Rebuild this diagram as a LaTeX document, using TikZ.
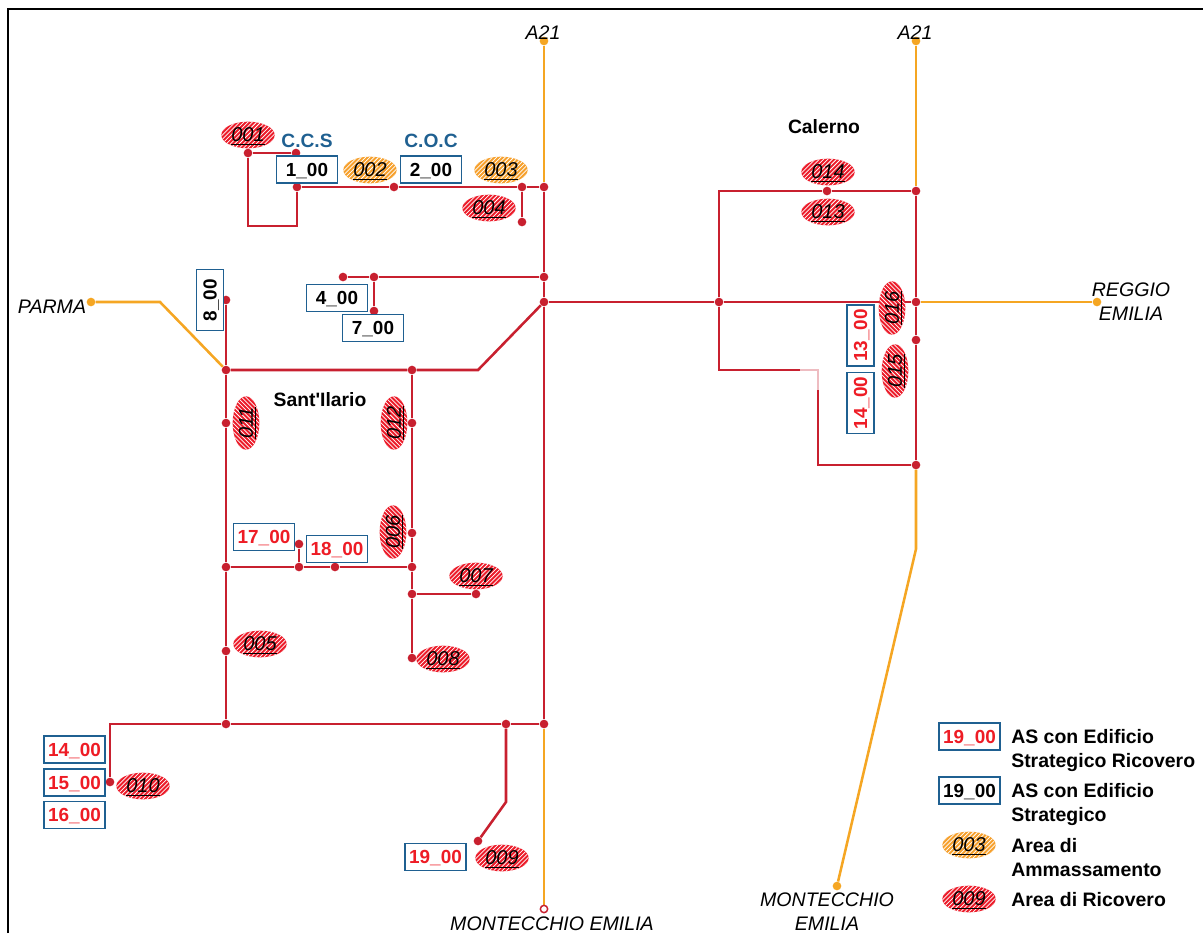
\documentclass[tikz,border=0pt]{standalone}
\usepackage{fontspec}
\setmainfont{Liberation Sans}
\newfontfamily\plainf{Liberation Sans}
\usetikzlibrary{shapes.geometric}
\definecolor{netred}{HTML}{C8202F}
\definecolor{road}{HTML}{F5A623}
\definecolor{boxblue}{HTML}{1F6091}
\definecolor{lblred}{HTML}{EE1C25}
\definecolor{areared}{HTML}{EC1C2A}
\definecolor{areaorg}{HTML}{F6A02C}
\newcommand{\fsz}[2]{\fontsize{#1}{#2}\selectfont}
\newcommand{\hatchlines}{%
  \foreach \i in {-20,-18,...,20}
    \draw[white,line width=0.55pt]
      ([shift={(\i*1.6pt-16pt,-16pt)}]path picture bounding box.center) --
      ([shift={(\i*1.6pt+16pt,16pt)}]path picture bounding box.center);}
\tikzset{
  net/.style={draw=netred,line width=1.9pt,line join=miter},
  roadline/.style={draw=road,line width=1.9pt,line join=miter},
  dot/.style={circle,fill=netred,inner sep=0pt,minimum size=6.5pt},
  rdot/.style={circle,fill=road,inner sep=0pt,minimum size=6.5pt},
  as/.style={draw=boxblue,fill=white,line width=1.2pt,inner sep=0pt,text depth=0pt,minimum width=46pt,minimum height=20pt,font=\fsz{14.2}{14.2}\bfseries},
  asv/.style={as,rotate=90},
  blk/.style={as,text=black},
  redt/.style={as,text=lblred},
  blkv/.style={asv,text=black},
  redv/.style={asv,text=lblred},
  area/.style={ellipse,inner sep=0pt,text depth=0pt,minimum width=40pt,minimum height=20pt,font=\fsz{15}{15}\itshape,path picture={\hatchlines}},
  ared/.style={area,fill=areared},
  aorg/.style={area,fill=areaorg},
  aredv/.style={ared,rotate=90},
  title/.style={font=\plainf\fsz{14.5}{18}\bfseries,text=black},
  blue/.style={font=\fsz{14.4}{18}\bfseries,text=boxblue},
  place/.style={font=\fsz{14.7}{18}\itshape,text=black,align=center,inner sep=0pt},
  legend/.style={font=\fsz{14.6}{18}\bfseries,text=black,align=left,anchor=west,inner sep=0pt},
}
\newcommand{\ar}[1]{\underline{#1}}
\begin{document}
\begin{tikzpicture}[x=0.75pt,y=-0.75pt]
\useasboundingbox (0,0) rectangle (1203,933);
% frame
\coordinate (f1) at (8,933); \coordinate (f2) at (8,9); \coordinate (f3) at (1203,9);
\draw[black,line width=1.5pt] (f1) -- (f2) -- (f3);
% road ends
\node[rdot] (aT1) at (544,41) {};
\node[rdot] (aT2) at (916,41) {};
\node[rdot] (pa) at (91,302) {};
\node[rdot] (re) at (1097,302) {};
\node[rdot] (mo2) at (837,886) {};
\coordinate (pa1) at (160,302);
\coordinate (mo2a) at (916,549);
% network junctions
\foreach \n/\x/\y in {
 c1/248/153,c2/296/153,c3/297/187,c4/394/187,c5/522/187,c6/544/187,c7/522/222,
 d1/343/277,d2/374/277,d3/544/277,d4/374/311,
 m/544/302,s1/412/370,s2/226/370,s0/226/300,s3/226/423,s4/226/567,s5/226/651,s6/226/724,
 t1/412/423,t2/412/533,t3/412/567,t4/412/594,t5/412/658,
 u1/299/567,u2/335/567,u3/299/544,t6/476/594,
 v1/110/782,v2/506/724,v3/544/724,v4/478/841,
 r1/719/302,r2/916/302,r3/827/191,r4/916/191,r5/916/340,r6/916/465}
 {\node[dot] (\n) at (\x,\y) {};}
\coordinate (b1) at (248,226); \coordinate (b2) at (297,226);
\coordinate (b3) at (478,370);
\coordinate (b4) at (110,724);
\coordinate (b5) at (506,802);
\coordinate (b6) at (719,191);
\coordinate (b7) at (719,370);
\coordinate (b8) at (800,370);
\coordinate (b9) at (818,370);
\coordinate (b10) at (818,390);
\coordinate (b11) at (818,465);
% roads
\draw[roadline] (aT1) -- (c6);
\draw[roadline] (v3) -- (544,909) coordinate (mo1c);
\node[circle,draw=netred,fill=white,line width=1.1pt,inner sep=0pt,minimum size=5.5pt] (mo1) at (mo1c) {};
\draw[roadline] (aT2) -- (r4);
\draw[roadline] (r6) -- (mo2a) -- (mo2);
\draw[roadline] (pa) -- (pa1) -- (s2);
\draw[roadline] (r2) -- (re);
% network
\draw[net] (c2) -- (c1) -- (b1) -- (b2) -- (c3) -- (c4) -- (c5) -- (c6) -- (d3) -- (m) -- (v3) -- (v2) -- (s6) -- (b4) -- (v1);
\draw[net] (c5) -- (c7);
\draw[net] (d1) -- (d2) -- (d3);
\draw[net] (d2) -- (d4);
\draw[net] (m) -- (b3) -- (s1) -- (s2);
\draw[net] (s0) -- (s2) -- (s3) -- (s4) -- (s5) -- (s6);
\draw[net] (s1) -- (t1) -- (t2) -- (t3) -- (t4) -- (t5);
\draw[net] (s4) -- (u1) -- (u2) -- (t3);
\draw[net] (u1) -- (u3);
\draw[net] (t4) -- (t6);
\draw[net] (v2) -- (b5) -- (v4);
\draw[net] (m) -- (r1) -- (r2);
\draw[net] (r1) -- (b6) -- (r3) -- (r4) -- (r2) -- (r5) -- (r6);
\draw[net] (r1) -- (b7) -- (b8);
\draw[net,draw=netred!30,line width=1pt] (b8) -- (b9) -- (b10);
\draw[net] (b10) -- (b11) -- (r6);
% AS boxes
\node[blk] (n1) at (307,169.5) {1\_00};
\node[blk] (n2) at (431,169.5) {2\_00};
\node[blk] (n4) at (337,298) {4\_00};
\node[blk] (n7) at (373,328) {7\_00};
\node[blkv] (n8) at (210,300) {8\_00};
\node[redt] (n17) at (264,537) {17\_00};
\node[redt] (n18) at (337,549) {18\_00};
\node[redv] (n13) at (860.5,335.5) {13\_00};
\node[redv] (n14b) at (860.5,403) {14\_00};
\node[redt] (n14) at (74.5,749.5) {14\_00};
\node[redt] (n15) at (74.5,782.5) {15\_00};
\node[redt] (n16) at (74.5,815) {16\_00};
\node[redt] (n19) at (435.5,857) {19\_00};
% areas
\node[ared] (a1) at (248,135) {\ar{001}};
\node[aorg] (a2) at (370,170) {\ar{002}};
\node[aorg] (a3) at (501,170) {\ar{003}};
\node[ared] (a4) at (489,208) {\ar{004}};
\node[ared] (a5) at (260,644) {\ar{005}};
\node[aredv] (a6) at (393,532) {\ar{006}};
\node[ared] (a7) at (476,576) {\ar{007}};
\node[ared] (a8) at (443,659) {\ar{008}};
\node[ared] (a9) at (502,858) {\ar{009}};
\node[ared] (a10) at (143,786) {\ar{010}};
\node[aredv] (a11) at (246,423) {\ar{011}};
\node[aredv] (a12) at (394,423) {\ar{012}};
\node[ared] (a13) at (828,212) {\ar{013}};
\node[ared] (a14) at (828,172) {\ar{014}};
\node[aredv] (a15) at (895,371) {\ar{015}};
\node[aredv] (a16) at (892,308) {\ar{016}};
% labels
\node[place] (l1) at (543,33) {A21};
\node[place] (l2) at (915,33) {A21};
\node[blue] (l3) at (307,141) {C.C.S};
\node[blue] (l4) at (431,141) {C.O.C};
\node[title] (l5) at (824,127) {Calerno};
\node[title] (l6) at (320,400) {Sant'Ilario};
\node[place] (l7) at (52,307) {PARMA};
\node[place] (l8) at (1131,302) {REGGIO\\EMILIA};
\node[place] (l9) at (552,924) {MONTECCHIO EMILIA};
\node[place] (l10) at (827,912) {MONTECCHIO\\EMILIA};
% legend
\node[redt] (k1) at (969.5,736.5) {19\_00};
\node[blk] (k2) at (969.5,790.5) {19\_00};
\node[aorg] (k3) at (969,845) {\ar{003}};
\node[ared] (k4) at (969,899) {\ar{009}};
\node[legend] (t1l) at (1011,750) {AS con Edificio\\Strategico Ricovero};
\node[legend] (t2l) at (1011,804) {AS con Edificio\\Strategico};
\node[legend] (t3l) at (1011,858) {Area di\\Ammassamento};
\node[legend] (t4l) at (1011,900) {Area di Ricovero};
\end{tikzpicture}
\end{document}
